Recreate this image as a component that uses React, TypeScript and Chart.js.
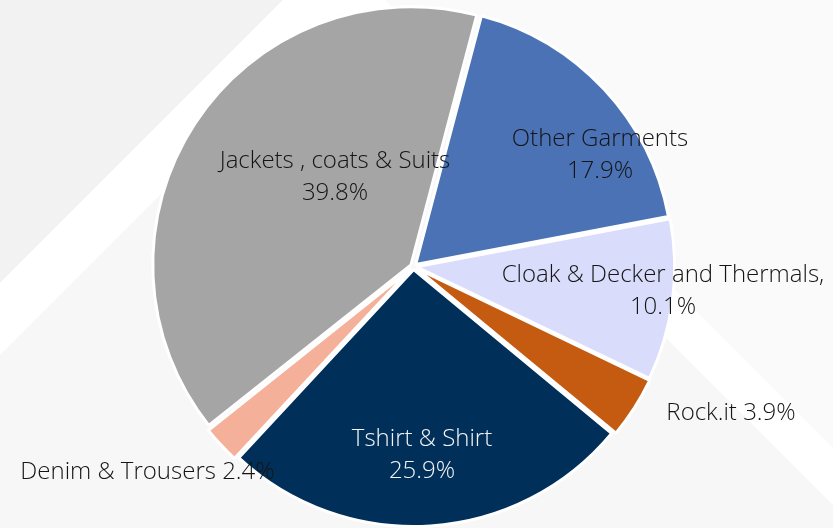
import React, { useEffect, useRef } from "react";
import { Chart, registerables } from "chart.js";

Chart.register(...registerables);

// ---- data ----
const categories = [
  "Other Garments",
  "Cloak & Decker and Thermals,",
  "Rock.it",
  "Tshirt & Shirt",
  "Denim & Trousers",
  "Jackets , coats & Suits",
];
const shares = [17.9, 10.1, 3.9, 25.9, 2.4, 39.8];
const sliceColors = ["#4a72b5", "#dadcfb", "#c55a11", "#00305a", "#f5b09a", "#a5a5a5"];

// ---- label layout (relative to pie centre, in units of radius) ----
const labelSingleLine = [false, false, true, false, true, false];
const labelAnchorX = [0.7257, 0.9708, 1.2354, 0.0331, -1.035, -0.3054];
const labelAnchorY = [-0.4409, 0.0895, 0.5623, 0.7276, 0.793, -0.356];
const labelColors = ["#141414", "#141414", "#141414", "#f4f4f4", "#141414", "#141414"];

const FONT_FAMILY = "'Open Sans', 'Noto Sans', sans-serif";
const FONT_SIZE = 24;
const LINE_HEIGHT = 32;

const backgroundPlugin = {
  id: "slideBackground",
  beforeDraw(chart: any) {
    const { ctx, width: w, height: h } = chart;
    ctx.save();
    ctx.fillStyle = "#f7f7f7";
    ctx.fillRect(0, 0, w, h);
    const poly = (pts: number[][], color: string) => {
      ctx.beginPath();
      ctx.moveTo(pts[0][0], pts[0][1]);
      for (let i = 1; i < pts.length; i++) ctx.lineTo(pts[i][0], pts[i][1]);
      ctx.closePath();
      ctx.fillStyle = color;
      ctx.fill();
    };
    poly([[0, 0], [283, 0], [0, 283]], "#f2f2f2");
    poly([[283, 0], [355, 0], [0, 355], [0, 283]], "#ffffff");
    poly([[385, 0], [w, 0], [w, w - 385]], "#fafafa");
    poly([[328, 0], [385, 0], [w, w - 385], [w, w - 328]], "#ffffff");
    ctx.restore();
  },
};

const labelPlugin = {
  id: "sliceLabels",
  afterDatasetsDraw(chart: any) {
    const meta = chart.getDatasetMeta(0);
    const ds = chart.data.datasets[0];
    const labels = chart.data.labels;
    const ctx = chart.ctx;
    ctx.save();
    ctx.font = `300 ${FONT_SIZE}px ${FONT_FAMILY}`;
    ctx.textAlign = "center";
    ctx.textBaseline = "alphabetic";
    meta.data.forEach((arc: any, i: number) => {
      const r = arc.outerRadius;
      const ax = arc.x + labelAnchorX[i] * r;
      const ay = arc.y + labelAnchorY[i] * r;
      const pct = `${Number(ds.data[i]).toFixed(1)}%`;
      const lines = labelSingleLine[i] ? [`${labels[i]} ${pct}`] : [labels[i], pct];
      ctx.fillStyle = labelColors[i];
      lines.forEach((t: string, k: number) => {
        const y = ay + 8.5 + (k - (lines.length - 1) / 2) * LINE_HEIGHT;
        ctx.fillText(t, ax, y);
      });
    });
    ctx.restore();
  },
};

export default function App() {
  const canvasRef = useRef<HTMLCanvasElement | null>(null);
  useEffect(() => {
    if (!canvasRef.current) return;
    const chart = new Chart(canvasRef.current, {
      type: "pie",
      data: {
        labels: categories,
        datasets: [
          {
            data: shares,
            backgroundColor: sliceColors,
            borderColor: "#ffffff",
            borderWidth: 3,
            offset: 12,
          },
        ],
      },
      options: {
        responsive: false,
        animation: false,
        devicePixelRatio: 1,
        rotation: 14.8,
        radius: 257,
        layout: { padding: { left: 0, right: 6, top: 5, bottom: 0 } },
        plugins: {
          legend: { display: false },
          tooltip: { enabled: false },
        },
      },
      plugins: [backgroundPlugin, labelPlugin],
    } as any);
    return () => chart.destroy();
  }, []);
  return (
    <div style={{ position: "absolute", left: 0, top: 0, width: 833, height: 528 }}>
      <canvas ref={canvasRef} width={833} height={528} style={{ display: "block" }} />
    </div>
  );
}
